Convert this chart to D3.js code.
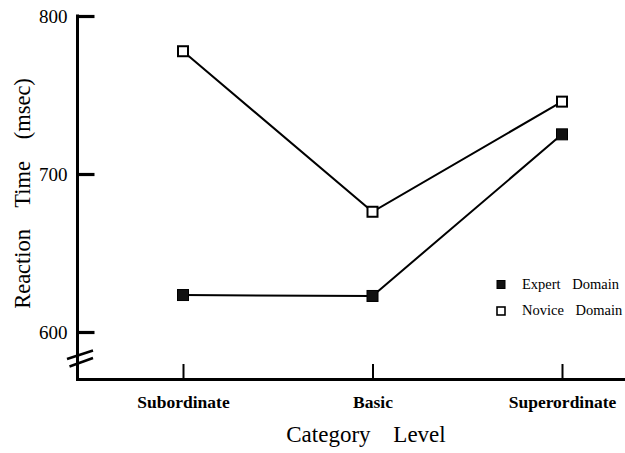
<!DOCTYPE html>
<html>
<head>
<meta charset="utf-8">
<script src="https://cdn.jsdelivr.net/npm/d3@7"></script>
<style>
  html, body { margin: 0; padding: 0; background: #fff; }
  svg { display: block; }
  svg text { font-family: "Liberation Serif", "LiberationSerif", "Times New Roman", Times, "DejaVu Serif", serif !important; fill: #000; }
</style>
</head>
<body>
<svg id="chart" width="625" height="453"></svg>
<script>
const categories = ["Subordinate", "Basic", "Superordinate"];
const expertValues = [623.4, 622.8, 725.1];
const noviceValues = [777.7, 676.1, 745.8];
const yTicks = [600, 700, 800];
const seriesNames = ["Expert Domain", "Novice Domain"];

const svg = d3.select("#chart");
const axisX = 77.5, axisBottom = 379.5;

const x = d3.scalePoint().domain(categories).range([183, 562]).padding(0);
const y = d3.scaleLinear().domain([600, 800]).range([332, 16]);

// y axis line
svg.append("line")
  .attr("x1", axisX).attr("x2", axisX)
  .attr("y1", y(800) - 1.5).attr("y2", axisBottom + 1.5)
  .attr("stroke", "#000").attr("stroke-width", 3);
// x axis line
svg.append("line")
  .attr("x1", axisX - 1.5).attr("x2", 625)
  .attr("y1", axisBottom).attr("y2", axisBottom)
  .attr("stroke", "#000").attr("stroke-width", 3);

// y axis ticks
const yAxis = d3.axisLeft(y).tickValues(yTicks).tickSizeInner(-17).tickSizeOuter(0).tickPadding(10);
const gy = svg.append("g").attr("transform", `translate(${axisX},0)`).call(yAxis);
gy.attr("font-family", null);
gy.select(".domain").remove();
gy.selectAll(".tick line").attr("stroke", "#000").attr("stroke-width", 3.2);
gy.selectAll(".tick text").attr("font-size", 19).attr("fill", "#000");

// x axis ticks
const xAxis = d3.axisBottom(x).tickSizeInner(-14).tickSizeOuter(0).tickPadding(16);
const gx = svg.append("g").attr("transform", `translate(0,${axisBottom - 1.5})`).call(xAxis);
gx.attr("font-family", null);
gx.select(".domain").remove();
gx.selectAll(".tick line").attr("stroke", "#000").attr("stroke-width", 2);
gx.selectAll(".tick text").attr("font-size", 17.5).attr("font-weight", "bold")
  .attr("fill", "#000")
  .attr("transform", "translate(0,1.5)");

// axis break marks
[[0, 0], [2.5, 7.5]].forEach(([dx, dy]) => {
  svg.append("line")
    .attr("x1", axisX - 10.5 + dx).attr("y1", 359 + dy)
    .attr("x2", axisX + 15.5).attr("y2", 350.5 + dy)
    .attr("stroke", "#000").attr("stroke-width", 2.4);
});

// lines
const line = d3.line().x((d, i) => x(categories[i])).y(d => y(d));
svg.append("path").datum(expertValues).attr("d", line)
  .attr("fill", "none").attr("stroke", "#000").attr("stroke-width", 2);
svg.append("path").datum(noviceValues).attr("d", line)
  .attr("fill", "none").attr("stroke", "#000").attr("stroke-width", 2);

// markers
const ms = 11;
svg.selectAll(".exp").data(expertValues).enter().append("rect")
  .attr("x", (d, i) => x(categories[i]) - ms / 2)
  .attr("y", d => y(d) - ms / 2)
  .attr("width", ms).attr("height", ms)
  .attr("fill", "#111").attr("stroke", "#000").attr("stroke-width", 1);
svg.selectAll(".nov").data(noviceValues).enter().append("rect")
  .attr("x", (d, i) => x(categories[i]) - (ms - 1) / 2)
  .attr("y", d => y(d) - (ms - 1) / 2)
  .attr("width", ms - 1).attr("height", ms - 1)
  .attr("fill", "#fff").attr("stroke", "#000").attr("stroke-width", 2);

// legend
const legend = svg.append("g");
const lg = [{name: seriesNames[0], fill: "#111", sw: 1, cy: 284.5},
            {name: seriesNames[1], fill: "#fff", sw: 1.6, cy: 311}];
lg.forEach(d => {
  legend.append("rect")
    .attr("x", 497).attr("y", d.cy - 4)
    .attr("width", 8).attr("height", 8)
    .attr("fill", d.fill).attr("stroke", "#000").attr("stroke-width", d.sw);
  legend.append("text")
    .attr("x", 522).attr("y", d.cy + 4)
    .attr("font-size", 14.5)
    .style("word-spacing", "8px")
    .text(d.name);
});

// axis titles
svg.append("text")
  .attr("transform", "translate(30,193.5) rotate(-90)")
  .attr("text-anchor", "middle")
  .attr("font-size", 22.5)
  .style("word-spacing", "16px")
  .text("Reaction Time (msec)");

svg.append("text")
  .attr("x", 366).attr("y", 441.7)
  .attr("text-anchor", "middle")
  .attr("font-size", 23)
  .style("word-spacing", "17px")
  .text("Category Level");
</script>
</body>
</html>
